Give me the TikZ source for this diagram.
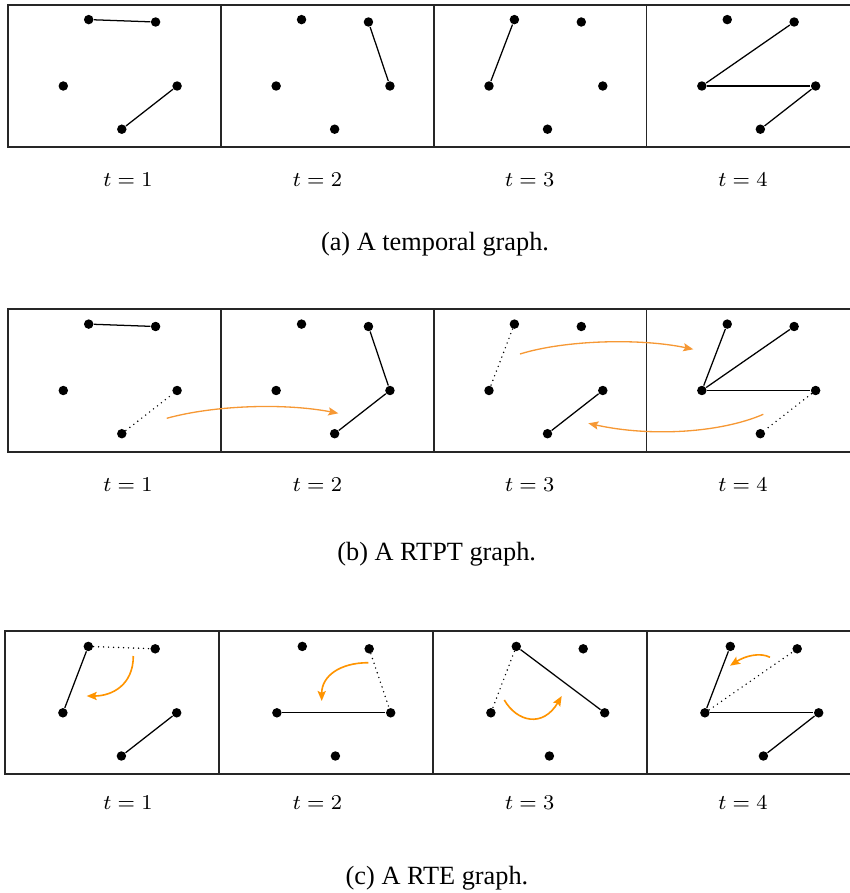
\documentclass[tikz,border=0pt]{standalone}
\usepackage{fontspec}
\setmainfont{Liberation Serif}
\usetikzlibrary{arrows.meta}
\definecolor{orangeb}{RGB}{246,152,52}
\definecolor{orangec}{RGB}{255,148,0}
\newcommand\graphrow[7]{% #1 prefix, #2 left, #3 top, #4 panel width, #5 height, #6 node dx, #7 node dy
  \draw[panel] (#2,#3) rectangle ++({4*#4},#5);
  \foreach \k in {1,2,3} \draw[panel] ({#2+\k*#4},#3) -- ++(0,#5);
  \foreach \k in {1,...,4}{
    \pgfmathsetmacro\LL{#2+(\k-1)*#4+#6}
    \pgfmathsetmacro\TT{#3+#7}
    \node[dot] (#1\k A) at (\LL+80.7,\TT+14.6) {};
    \node[dot] (#1\k B) at (\LL+147.6,\TT+17.0) {};
    \node[dot] (#1\k C) at (\LL+55.3,\TT+81.0) {};
    \node[dot] (#1\k D) at (\LL+169.1,\TT+81.0) {};
    \node[dot] (#1\k E) at (\LL+113.8,\TT+124.2) {};
  }
}
\newcommand\tlabels[2]{% #1 prefix, #2 baseline y
  \node[tlab] (#1t1) at (128,#2) {$t=1$};
  \node[tlab] (#1t2) at (317.5,#2) {$t=2$};
  \node[tlab] (#1t3) at (529.7,#2) {$t=3$};
  \node[tlab] (#1t4) at (743,#2) {$t=4$};
}
\begin{document}
\begin{tikzpicture}[x={(0.38pt,0)},y={(0,-0.38pt)},
  dot/.style={circle,fill=black,inner sep=0pt,minimum size=3.6pt},
  panel/.style={draw=black!85,line width=0.62pt},
  edge/.style={line width=0.48pt},
  dotedge/.style={line width=0.6pt,line cap=round,dash pattern=on 0pt off 1.9pt},
  tlab/.style={anchor=base,inner sep=0pt,font=\fontsize{7.7}{9}\selectfont},
  captext/.style={anchor=base,inner sep=0pt,font=\fontsize{10}{12}\selectfont},
  oarrb/.style={draw=orangeb,line width=0.5pt,-{Stealth[length=3.8pt,width=3.1pt,inset=0.7pt]}},
  oarrc/.style={draw=orangec,line width=0.62pt,-{Stealth[length=3.8pt,width=3.1pt,inset=0.7pt]}}
]
\useasboundingbox (0,0) rectangle (850,893);
\clip (0,0) rectangle (850,893);

% ---------------- (a) ----------------
\graphrow{a}{8}{5}{212.85}{142}{0}{0}
\draw[edge] (a1A) -- (a1B);
\draw[edge] (a1E) -- (a1D);
\draw[edge] (a2B) -- (a2D);
\draw[edge] (a3A) -- (a3C);
\draw[edge] (a4C) -- (a4B);
\draw[edge] (a4C) -- (a4D);
\draw[edge] (a4D) -- (a4E);
\tlabels{a}{186}
\node[captext] (capa) at (435,250) {(a) A temporal graph.};

% ---------------- (b) ----------------
\graphrow{b}{8}{309.3}{212.85}{142.7}{0}{0.2}
\draw[edge] (b1A) -- (b1B);
\draw[dotedge] (b1E) -- (b1D);
\draw[edge] (b2B) -- (b2D);
\draw[edge] (b2D) -- (b2E);
\draw[dotedge] (b3A) -- (b3C);
\draw[edge] (b3E) -- (b3D);
\draw[edge] (b4C) -- (b4A);
\draw[edge] (b4C) -- (b4B);
\draw[edge] (b4C) -- (b4D);
\draw[dotedge] (b4D) -- (b4E);
\coordinate (r1s) at (166.7,418.3);
\coordinate (r1e) at (338.3,413.3);
\coordinate (r2s) at (520,354);
\coordinate (r2e) at (693.3,349.3);
\coordinate (r3s) at (763.3,414.3);
\coordinate (r3e) at (588.3,423.3);
\draw[oarrb] (r1s) .. controls (215,405) and (285,403) .. (r1e);
\draw[oarrb] (r2s) .. controls (565,340) and (640,338) .. (r2e);
\draw[oarrb] (r3s) .. controls (720,433) and (650,437) .. (r3e);
\tlabels{b}{491}
\node[captext] (capb) at (436.7,560.7) {(b) A RTPT graph.};

% ---------------- (c) ----------------
\graphrow{c}{4.7}{631}{214}{143}{2.9}{0.8}
\draw[edge] (c1A) -- (c1C);
\draw[dotedge] (c1A) -- (c1B);
\draw[edge] (c1E) -- (c1D);
\draw[edge] (c2C) -- (c2D);
\draw[dotedge] (c2B) -- (c2D);
\draw[edge] (c3A) -- (c3D);
\draw[dotedge] (c3A) -- (c3C);
\draw[edge] (c4A) -- (c4C);
\draw[dotedge] (c4C) -- (c4B);
\draw[edge] (c4C) -- (c4D);
\draw[edge] (c4D) -- (c4E);
\coordinate (q1s) at (133.3,656);
\coordinate (q1e) at (86.7,696);
\coordinate (q2s) at (368.3,662.7);
\coordinate (q2e) at (321.7,701);
\coordinate (q3s) at (504.3,700);
\coordinate (q3e) at (561.7,696);
\coordinate (q4s) at (770,657.3);
\coordinate (q4e) at (730,665.7);
\draw[oarrc] (q1s) .. controls (133.3,685) and (112,696) .. (q1e);
\draw[oarrc] (q2s) .. controls (340,662.7) and (321.7,676) .. (q2e);
\draw[oarrc] (q3s) .. controls (517,722) and (543,728) .. (q3e);
\draw[oarrc] (q4s) .. controls (760,652) and (745,656) .. (q4e);
\tlabels{c}{809}
\node[captext] (capc) at (437,884) {(c) A RTE graph.};
\end{tikzpicture}
\end{document}
